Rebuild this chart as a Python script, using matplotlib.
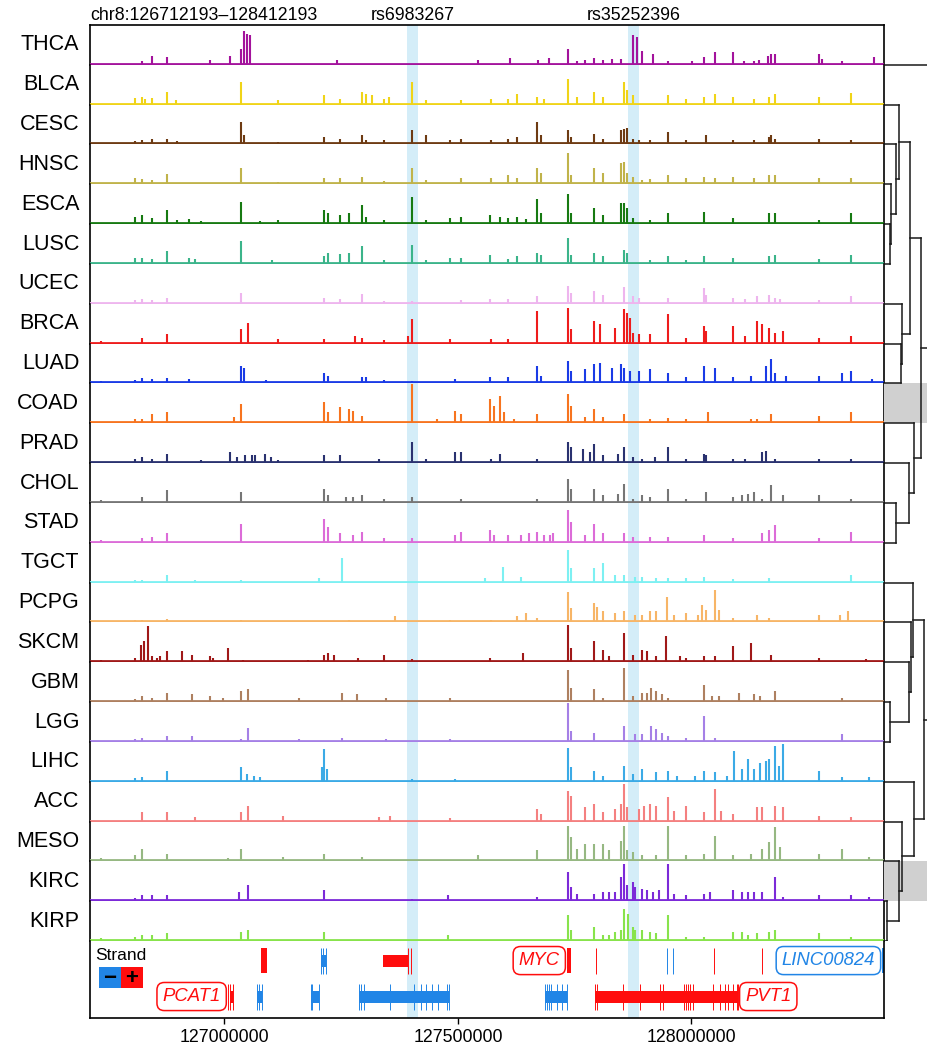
import matplotlib.pyplot as plt
from matplotlib.patches import Rectangle
from matplotlib.transforms import blended_transform_factory

plt.rcParams['font.family'] = ['Liberation Sans', 'DejaVu Sans']

# region and SNPs (bp)
region = (126712193, 128412193)
snp_names = ['rs6983267', 'rs35252396']
snp_pos = [127402700, 127875500]

# peaks per cancer type: (position in kb, signal height)
THCA = [(126823, 10), (126846, 25), (126877, 22), (126969, 12), (127011, 25), (127036, 45), (127041, 100),
        (127049, 90), (127054, 88), (127241, 12), (127542, 12), (127611, 18), (127671, 12), (127694, 18),
        (127735, 45), (127754, 10), (127773, 12), (127792, 18), (127811, 12), (127829, 15), (127849, 15),
        (127874, 88), (127883, 80), (127893, 40), (127918, 30), (127950, 10), (128001, 10), (128026, 20),
        (128051, 35), (128089, 35), (128112, 10), (128134, 10), (128144, 12), (128163, 25), (128171, 30),
        (128178, 30), (128273, 30), (128279, 15), (128323, 10), (128390, 20)]
BLCA = [(126808, 18), (126823, 20), (126830, 15), (126846, 18), (126877, 35), (126897, 10), (127036, 65),
        (127115, 10), (127213, 25), (127247, 15), (127294, 35), (127304, 30), (127315, 25), (127342, 15),
        (127352, 20), (127402, 65), (127431, 10), (127507, 10), (127570, 15), (127608, 15), (127627, 30),
        (127669, 20), (127684, 15), (127735, 75), (127754, 20), (127792, 35), (127811, 20), (127855, 65),
        (127861, 40), (127874, 25), (127950, 25), (127988, 15), (128026, 20), (128051, 28), (128089, 20),
        (128134, 15), (128165, 20), (128178, 28), (128273, 20), (128342, 32)]
CESC = [(126808, 8), (126823, 12), (126846, 15), (126877, 15), (126899, 8), (127036, 65), (127041, 25),
        (127115, 5), (127213, 20), (127247, 15), (127294, 25), (127304, 10), (127342, 10), (127402, 40),
        (127431, 25), (127482, 10), (127507, 15), (127570, 10), (127608, 15), (127627, 20), (127669, 65),
        (127678, 25), (127735, 40), (127741, 20), (127792, 30), (127811, 15), (127849, 40), (127855, 45),
        (127861, 48), (127874, 15), (127887, 10), (127912, 10), (127950, 35), (127988, 10), (128032, 25),
        (128089, 10), (128134, 10), (128165, 20), (128171, 25), (128178, 15), (128273, 15), (128342, 10)]
HNSC = [(126808, 15), (126823, 12), (126846, 10), (126877, 28), (127036, 45), (127115, 5), (127213, 15),
        (127247, 15), (127294, 20), (127342, 8), (127402, 45), (127431, 10), (127507, 15), (127570, 15),
        (127608, 25), (127627, 15), (127669, 45), (127678, 30), (127735, 90), (127741, 25), (127792, 45),
        (127811, 30), (127849, 60), (127855, 65), (127861, 30), (127874, 20), (127893, 10), (127912, 12),
        (127950, 25), (127988, 15), (128026, 20), (128051, 15), (128089, 20), (128134, 15), (128165, 25),
        (128178, 25), (128273, 15), (128342, 15)]
ESCA = [(126808, 20), (126823, 25), (126846, 15), (126877, 40), (126899, 10), (126925, 12), (126950, 5),
        (127036, 65), (127077, 5), (127115, 8), (127213, 40), (127222, 30), (127247, 25), (127266, 30),
        (127294, 55), (127304, 20), (127342, 10), (127402, 80), (127431, 10), (127482, 15), (127507, 20),
        (127568, 25), (127589, 20), (127608, 15), (127627, 20), (127646, 12), (127669, 72), (127678, 30),
        (127735, 88), (127741, 30), (127792, 45), (127811, 25), (127849, 60), (127855, 60), (127861, 45),
        (127874, 15), (127912, 8), (127950, 32), (128026, 35), (128089, 15), (128165, 30), (128178, 32),
        (128273, 10), (128342, 30)]
LUSC = [(126808, 15), (126823, 15), (126846, 12), (126877, 35), (126925, 15), (126937, 12), (127036, 65),
        (127102, 8), (127213, 20), (127222, 30), (127247, 28), (127266, 30), (127294, 50), (127342, 10),
        (127402, 55), (127431, 10), (127482, 15), (127507, 15), (127568, 25), (127608, 12), (127627, 20),
        (127669, 30), (127678, 25), (127735, 75), (127741, 25), (127792, 30), (127811, 20), (127855, 40),
        (127861, 30), (127912, 8), (127950, 20), (127988, 10), (128026, 20), (128089, 15), (128165, 20),
        (128178, 25), (128273, 12), (128342, 25)]
UCEC = [(126808, 8), (126823, 12), (126846, 8), (126877, 15), (127036, 30), (127213, 15), (127247, 12),
        (127294, 28), (127342, 5), (127402, 5), (127507, 8), (127568, 10), (127608, 10), (127669, 20),
        (127735, 50), (127741, 30), (127792, 35), (127811, 25), (127855, 48), (127874, 20), (127887, 15),
        (127950, 15), (128026, 45), (128032, 25), (128089, 15), (128115, 10), (128140, 20), (128165, 25),
        (128178, 15), (128190, 12), (128273, 8), (128342, 20)]
BRCA = [(126735, 5), (126823, 15), (126877, 25), (127036, 40), (127051, 60), (127115, 10), (127213, 10),
        (127279, 20), (127294, 15), (127342, 8), (127393, 20), (127402, 70), (127482, 10), (127570, 10),
        (127608, 10), (127669, 95), (127735, 105), (127741, 40), (127792, 65), (127804, 55), (127836, 45),
        (127855, 100), (127861, 90), (127868, 75), (127874, 30), (127887, 25), (127912, 25), (127950, 85),
        (127988, 15), (128026, 50), (128032, 35), (128089, 50), (128115, 20), (128140, 65), (128152, 55),
        (128165, 45), (128178, 30), (128197, 35), (128273, 15), (128342, 20)]
LUAD = [(126735, 5), (126808, 8), (126823, 12), (126846, 10), (126877, 12), (126925, 10), (127036, 50),
        (127041, 45), (127089, 8), (127213, 30), (127222, 20), (127294, 15), (127304, 15), (127342, 8),
        (127402, 5), (127494, 10), (127568, 15), (127608, 15), (127669, 50), (127678, 20), (127735, 65),
        (127741, 35), (127773, 40), (127792, 55), (127804, 60), (127829, 45), (127849, 55), (127855, 45),
        (127868, 35), (127887, 35), (127912, 40), (127950, 30), (127988, 15), (128026, 50), (128051, 45),
        (128089, 15), (128127, 20), (128159, 50), (128171, 70), (128178, 30), (128203, 20), (128273, 20),
        (128323, 30), (128342, 35), (128387, 10)]
COAD = [(126808, 10), (126823, 10), (126846, 25), (126877, 32), (127020, 15), (127036, 55), (127213, 62),
        (127222, 30), (127247, 45), (127266, 40), (127275, 35), (127294, 20), (127402, 115), (127456, 10),
        (127494, 35), (127507, 25), (127568, 70), (127577, 50), (127589, 80), (127598, 30), (127621, 10),
        (127669, 25), (127735, 85), (127741, 50), (127773, 15), (127792, 40), (127811, 15), (127855, 25),
        (127912, 10), (127950, 12), (127988, 10), (128036, 30), (128127, 10), (128140, 10), (128171, 25),
        (128273, 20), (128342, 30)]
PRAD = [(126808, 8), (126823, 15), (126846, 8), (126877, 25), (126950, 5), (127013, 30), (127026, 15),
        (127045, 20), (127058, 20), (127066, 20), (127087, 25), (127099, 15), (127115, 5), (127213, 22),
        (127247, 20), (127330, 10), (127402, 60), (127431, 8), (127494, 30), (127507, 30), (127570, 10),
        (127589, 25), (127669, 10), (127735, 60), (127741, 45), (127767, 40), (127783, 30), (127792, 55),
        (127811, 20), (127842, 25), (127855, 45), (127874, 15), (127893, 10), (127922, 15), (127950, 45),
        (127988, 10), (128026, 25), (128032, 20), (128089, 10), (128115, 10), (128152, 30), (128159, 35),
        (128178, 10), (128273, 10), (128342, 10)]
CHOL = [(126735, 5), (126823, 15), (126877, 35), (127036, 30), (127213, 40), (127222, 20), (127260, 15),
        (127275, 15), (127294, 22), (127342, 10), (127402, 15), (127507, 8), (127669, 10), (127735, 70),
        (127741, 40), (127792, 40), (127811, 20), (127842, 25), (127855, 55), (127874, 10), (127893, 20),
        (127912, 15), (127950, 40), (127988, 10), (128032, 30), (128089, 15), (128108, 20), (128121, 25),
        (128134, 30), (128152, 10), (128171, 50), (128197, 20), (128273, 20), (128342, 10)]
STAD = [(126735, 5), (126823, 12), (126846, 15), (126877, 25), (127036, 55), (127213, 70), (127222, 45),
        (127247, 25), (127275, 20), (127294, 30), (127342, 10), (127402, 10), (127494, 20), (127507, 30),
        (127568, 35), (127577, 20), (127608, 20), (127634, 20), (127652, 25), (127669, 30), (127684, 20),
        (127697, 20), (127703, 25), (127735, 95), (127741, 60), (127773, 20), (127792, 55), (127811, 25),
        (127855, 25), (127874, 15), (127912, 15), (127950, 15), (128026, 20), (128089, 10), (128152, 25),
        (128165, 35), (128178, 50), (128273, 10), (128342, 30)]
TGCT = [(126808, 5), (126823, 5), (126877, 20), (126937, 5), (127036, 5), (127203, 10), (127251, 70),
        (127558, 10), (127596, 45), (127634, 15), (127735, 95), (127741, 40), (127792, 40), (127811, 55),
        (127836, 20), (127855, 20), (127880, 15), (127893, 15), (127925, 10), (127950, 10), (127988, 10),
        (128026, 15), (128089, 8), (128165, 10), (128342, 20)]
PCPG = [(126808, 5), (126823, 5), (126877, 8), (127036, 5), (127266, 5), (127365, 15), (127482, 5),
        (127570, 5), (127627, 15), (127646, 25), (127669, 10), (127735, 90), (127741, 40), (127792, 55),
        (127798, 45), (127811, 30), (127836, 25), (127855, 30), (127880, 20), (127893, 20), (127912, 30),
        (127925, 30), (127947, 75), (127963, 20), (127988, 25), (128013, 20), (128022, 50), (128032, 35),
        (128051, 95), (128058, 35), (128089, 10), (128140, 20), (128165, 10), (128273, 20), (128317, 20),
        (128336, 30)]
SKCM = [(126735, 5), (126808, 10), (126821, 50), (126827, 60), (126836, 105), (126846, 15), (126855, 10),
        (126861, 15), (126877, 30), (126909, 30), (126931, 20), (126969, 15), (126975, 10), (127008, 40),
        (127039, 5), (127178, 5), (127213, 20), (127222, 25), (127235, 20), (127285, 10), (127342, 20),
        (127402, 8), (127568, 10), (127640, 25), (127735, 110), (127741, 40), (127792, 60), (127811, 35),
        (127823, 15), (127855, 85), (127874, 20), (127893, 35), (127905, 30), (127925, 15), (127946, 75),
        (127975, 15), (127988, 10), (128026, 15), (128051, 15), (128089, 45), (128127, 55), (128171, 20),
        (128273, 10), (128374, 8)]
GBM = [(126808, 5), (126823, 15), (126846, 8), (126877, 25), (126931, 20), (126969, 15), (126998, 10),
       (127036, 30), (127051, 35), (127159, 10), (127251, 25), (127283, 20), (127345, 10), (127482, 8),
       (127735, 95), (127741, 40), (127792, 35), (127811, 10), (127855, 100), (127874, 15), (127893, 25),
       (127905, 25), (127914, 40), (127925, 30), (127937, 20), (127950, 10), (128026, 50), (128045, 15),
       (128058, 15), (128102, 25), (128134, 20), (128146, 15), (128178, 30), (128323, 10)]
LGG = [(126808, 5), (126823, 8), (126877, 15), (126931, 15), (127036, 5), (127051, 40), (127159, 5),
       (127251, 10), (127345, 5), (127482, 5), (127735, 115), (127741, 30), (127792, 25), (127855, 45),
       (127880, 20), (127893, 20), (127914, 45), (127925, 35), (127937, 25), (127950, 15), (127988, 10),
       (128026, 75), (128051, 10), (128323, 20)]
LIHC = [(126808, 8), (126823, 10), (126877, 30), (127036, 40), (127049, 20), (127064, 15), (127077, 10),
        (127209, 40), (127213, 95), (127220, 35), (127402, 5), (127494, 5), (127735, 100), (127741, 40),
        (127792, 30), (127811, 15), (127855, 45), (127874, 20), (127893, 35), (127925, 25), (127950, 30),
        (127969, 15), (128007, 15), (128026, 30), (128051, 25), (128077, 15), (128092, 90), (128108, 35),
        (128121, 65), (128134, 35), (128146, 55), (128159, 60), (128165, 65), (128178, 105), (128188, 45),
        (128197, 110), (128273, 30), (128323, 10), (128380, 10)]
ACC = [(126823, 25), (126877, 25), (126937, 10), (127036, 25), (127051, 45), (127125, 15), (127330, 10),
       (127355, 15), (127482, 8), (127669, 35), (127678, 20), (127735, 90), (127741, 75), (127773, 40),
       (127792, 50), (127811, 25), (127836, 35), (127849, 50), (127855, 110), (127861, 40), (127887, 35),
       (127899, 45), (127912, 50), (127925, 45), (127950, 70), (127963, 30), (127988, 45), (128026, 25),
       (128051, 95), (128064, 30), (128089, 20), (128140, 40), (128152, 40), (128178, 45), (128197, 40),
       (128273, 15), (128342, 10)]
MESO = [(126735, 8), (126808, 15), (126823, 35), (126877, 20), (127007, 8), (127036, 35), (127125, 10),
        (127213, 20), (127294, 10), (127542, 15), (127669, 30), (127735, 105), (127741, 70), (127754, 35),
        (127773, 50), (127792, 50), (127811, 50), (127823, 30), (127849, 60), (127855, 105), (127861, 30),
        (127874, 25), (127893, 15), (127925, 15), (127950, 105), (127988, 15), (128026, 20), (128051, 75),
        (128089, 15), (128127, 20), (128152, 35), (128165, 55), (128178, 100), (128190, 40), (128273, 20),
        (128323, 35), (128380, 10)]
KIRC = [(126808, 8), (126823, 15), (126846, 15), (126877, 15), (127032, 25), (127051, 45), (127213, 30),
        (127402, 5), (127478, 15), (127669, 10), (127735, 85), (127741, 40), (127754, 20), (127792, 20),
        (127811, 25), (127823, 25), (127836, 25), (127849, 70), (127855, 110), (127861, 45), (127874, 55),
        (127880, 40), (127893, 35), (127905, 30), (127918, 25), (127931, 30), (127950, 110), (127963, 20),
        (127988, 15), (128026, 20), (128039, 25), (128089, 30), (128108, 25), (128121, 25), (128134, 25),
        (128152, 25), (128178, 70), (128197, 10), (128273, 15), (128342, 15), (128380, 10)]
KIRP = [(126735, 5), (126808, 8), (126823, 15), (126846, 15), (126877, 20), (127036, 25), (127051, 30),
        (127213, 25), (127478, 15), (127735, 75), (127741, 30), (127792, 40), (127811, 15), (127823, 15),
        (127836, 25), (127849, 30), (127855, 95), (127864, 80), (127874, 40), (127880, 30), (127893, 30),
        (127912, 25), (127925, 20), (127950, 75), (127988, 10), (128026, 10), (128089, 25), (128108, 25),
        (128121, 15), (128140, 20), (128165, 25), (128178, 30), (128273, 20), (128342, 10)]

tracks = [('THCA', THCA, '#A3139C'), ('BLCA', BLCA, '#F0D418'), ('CESC', CESC, '#6E3B13'),
          ('HNSC', HNSC, '#C0B34A'), ('ESCA', ESCA, '#177A12'), ('LUSC', LUSC, '#3BB48A'),
          ('UCEC', UCEC, '#EEB5EE'), ('BRCA', BRCA, '#EE1C1C'), ('LUAD', LUAD, '#1A3BE6'),
          ('COAD', COAD, '#F7741F'), ('PRAD', PRAD, '#2A3270'), ('CHOL', CHOL, '#767676'),
          ('STAD', STAD, '#DC6CD8'), ('TGCT', TGCT, '#7DF0F2'), ('PCPG', PCPG, '#F7B567'),
          ('SKCM', SKCM, '#A01919'), ('GBM', GBM, '#AE8060'), ('LGG', LGG, '#A580E6'),
          ('LIHC', LIHC, '#3BAAE6'), ('ACC', ACC, '#F48080'), ('MESO', MESO, '#96B882'),
          ('KIRC', KIRC, '#7C2AD8'), ('KIRP', KIRP, '#88E34C')]

# dendrogram merges: (child a, child b, height)
merges = [('ESCA', 'LUSC', 5.5), ('HNSC', 0, 6.5), ('CESC', 1, 12), ('BLCA', 2, 14.7),
          ('BRCA', 'LUAD', 17.3), ('UCEC', 4, 18.3), (3, 5, 26), ('CHOL', 'STAD', 12.3),
          ('PRAD', 7, 24.7), ('COAD', 8, 30), (6, 9, 37.3), ('GBM', 'LGG', 6.3),
          ('SKCM', 11, 24.7), ('PCPG', 12, 27.3), ('TGCT', 13, 29), ('KIRC', 'KIRP', 3.3),
          ('MESO', 15, 14.7), ('ACC', 16, 18), ('LIHC', 17, 30), (14, 18, 39.7),
          (10, 19, 55), ('THCA', 20, 65)]
highlighted = ['COAD', 'KIRC']

# genes (kb): bars = (start, end, strand, row, kind); ticks = exon marks
gene_bars = [(127078, 127091, '+', 0, 'tall'), (127207, 127217, '-', 0, 'bar'),
             (127339, 127392, '+', 0, 'bar'), (127733, 127741, '+', 0, 'tall'),
             (128408, 128413, '-', 0, 'tall'),
             (127013, 127018, '+', 1, 'bar'), (127070, 127081, '-', 1, 'bar'),
             (127185, 127202, '-', 1, 'bar'), (127288, 127481, '-', 1, 'bar'),
             (127686, 127733, '-', 1, 'bar'), (127793, 128100, '+', 1, 'bar')]
gene_ticks = [([127207, 127211, 127217], '-', 0), ([127392, 127399], '+', 0),
              ([127796, 128048, 128151], '+', 0), ([127947, 127960], '-', 0),
              ([127007, 127013, 127018], '+', 1), ([127070, 127073, 127081], '-', 1),
              ([127185, 127188, 127202], '-', 1),
              ([127288, 127292, 127299, 127355, 127406, 127421, 127432, 127444, 127457, 127477, 127481], '-', 1),
              ([127686, 127690, 127695, 127700, 127712, 127722, 127733], '-', 1),
              ([127793, 127797, 127854, 127890, 127933, 127938, 127983, 127988, 127993, 127997, 128004,
                128047, 128061, 128072, 128079, 128089, 128097, 128100], '+', 1)]
gene_labels = [('MYC', 127733, '+', 0, 'left'), ('LINC00824', 128408, '-', 0, 'left'),
               ('PCAT1', 127007, '+', 1, 'left'), ('PVT1', 128100, '+', 1, 'right')]
strand_colors = {'+': '#FF0D0D', '-': '#2185E6'}
xticks = [127000000, 127500000, 128000000]

W, H = 927, 1047
fig = plt.figure(figsize=(W / 100, H / 100), dpi=100)


def px_axes(x0, y0, x1, y1):
    return fig.add_axes([x0 / W, 1 - y1 / H, (x1 - x0) / W, (y1 - y0) / H])


left, right, top = 90, 884, 25
slot = 39.83
band_half = 11700
band_color = '#D4EDF8'

axes = []
for i, (name, peaks, color) in enumerate(tracks):
    ax = px_axes(left, top + slot * i, right, top + slot * (i + 1))
    ax.set_xlim(region)
    ax.set_ylim(-3, 117)
    for p in snp_pos:
        ax.axvspan(p - band_half, p + band_half, color=band_color, lw=0, zorder=0)
    xs = [p * 1000 for p, h in peaks]
    hs = [h for p, h in peaks]
    ax.vlines(xs, 0, hs, color=color, lw=1.5, zorder=2)
    ax.axhline(0, color=color, lw=2.0, zorder=3)
    ax.set_xticks([])
    ax.set_yticks([])
    for s in ['top', 'bottom']:
        ax.spines[s].set_visible(False)
    for s in ['left', 'right']:
        ax.spines[s].set_linewidth(1.2)
    if i == 0:
        ax.spines['top'].set_visible(True)
        ax.spines['top'].set_linewidth(1.2)
    ax.text(-0.0135, 0.5, name, transform=ax.transAxes, ha='right', va='center', fontsize=15.5)
    axes.append(ax)

# top labels
ax0 = axes[0]
trans = blended_transform_factory(ax0.transData, ax0.transAxes)
ax0.text(region[0], 1.12, 'chr8:%d–%d' % region, transform=trans, ha='left', va='baseline',
         fontsize=12.8)
for name, p in zip(snp_names, snp_pos):
    ax0.text(p, 1.12, name, transform=trans, ha='center', va='baseline', fontsize=12.8)

# gene track
gax = px_axes(left, top + slot * 23, right, 1018)
gax.set_xlim(region)
gax.set_ylim(77, 0)
for p in snp_pos:
    gax.axvspan(p - band_half, p + band_half, color=band_color, lw=0, zorder=0)
row_y = [19.5, 55.5]
for s, e, strand, row, kind in gene_bars:
    hh = 12.5 if kind == 'tall' else 6
    gax.add_patch(Rectangle((s * 1000, row_y[row] - hh), (e - s) * 1000, 2 * hh,
                            color=strand_colors[strand], lw=0, zorder=2))
for pos, strand, row in gene_ticks:
    gax.vlines([p * 1000 for p in pos], row_y[row] - 13, row_y[row] + 13,
               color=strand_colors[strand], lw=0.7, zorder=2)
for name, p, strand, row, side in gene_labels:
    off = -5 if side == 'left' else 5
    gax.annotate(name, xy=(p * 1000, row_y[row]), xytext=(off, 0), textcoords='offset points',
                 ha='right' if side == 'left' else 'left', va='center', style='italic',
                 fontsize=13.3, color=strand_colors[strand],
                 bbox=dict(boxstyle='round,pad=0.3,rounding_size=0.4', fc='white',
                           ec=strand_colors[strand], lw=1.1))
gax.spines['top'].set_visible(False)
for s in ['left', 'right', 'bottom']:
    gax.spines[s].set_linewidth(1.2)
gax.set_yticks([])
gax.set_xticks(xticks)
gax.set_xticklabels([str(t) for t in xticks], fontsize=12.8)
gax.tick_params(axis='x', length=4, width=1, pad=4)

# strand legend
fig.text(95 / W, 1 - 955 / H, 'Strand', fontsize=12.5, ha='left', va='center')
for x0, strand, sym in [(99, '-', '−'), (121, '+', '+')]:
    fig.add_artist(Rectangle((x0 / W, 1 - 988 / H), 22 / W, 21 / H, transform=fig.transFigure,
                             color=strand_colors[strand], lw=0))
    fig.text((x0 + 11) / W, 1 - 978 / H, sym, fontsize=16, ha='center', va='center', weight='bold')

# dendrogram
dax = px_axes(right, top, W, top + slot * 23)
dax.set_xlim(0, W - right)
dax.set_ylim(23, 0)
dax.axis('off')
names = [t[0] for t in tracks]
for n in highlighted:
    k = names.index(n)
    dax.add_patch(Rectangle((0, k), W - right, 1, color='#D0D0D0', lw=0, zorder=0))
node_y, node_x = [], []


def pos_of(c):
    if isinstance(c, str):
        return names.index(c) + 1, 0
    return node_y[c], node_x[c]


for a, b, h in merges:
    ya, xa = pos_of(a)
    yb, xb = pos_of(b)
    dax.plot([xa, h], [ya, ya], color='#1a1a1a', lw=1.1)
    dax.plot([xb, h], [yb, yb], color='#1a1a1a', lw=1.1)
    dax.plot([h, h], [ya, yb], color='#1a1a1a', lw=1.1)
    node_y.append((ya + yb) / 2)
    node_x.append(h)

fig.savefig('out.png', dpi=100)
